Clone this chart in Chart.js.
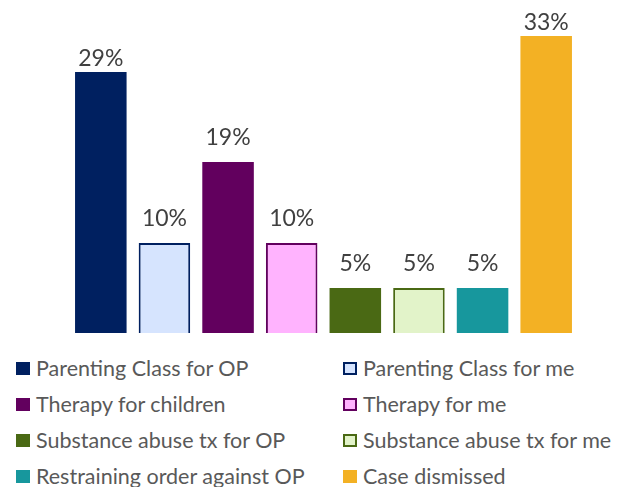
<!DOCTYPE html>
<html>
<head>
<meta charset="utf-8">
<script src="https://cdn.jsdelivr.net/npm/chart.js@4"></script>
<style>
  html, body { margin: 0; padding: 0; background: #fff; }
  #wrap { position: relative; width: 629px; height: 487px; overflow: hidden; }
  #chartBox { position: absolute; left: 0; top: 0; width: 629px; height: 345px; }
  #legend { position: absolute; left: 0; top: 356px; width: 629px; font-family: Lato, sans-serif; font-size: 21.5px; color: #595959; }
  .item { position: absolute; height: 24px; line-height: 24px; white-space: nowrap; }
  .box { position: absolute; left: 0; top: 6px; width: 14px; height: 13px; box-sizing: border-box; }
  .txt { position: absolute; left: 20px; top: 0; }
</style>
</head>
<body>
<div id="wrap">
  <div id="chartBox"><canvas id="chart"></canvas></div>
  <div id="legend"></div>
</div>
<script>
// データ
const categories = [
    'Parenting Class for OP',
    'Parenting Class for me',
    'Therapy for children',
    'Therapy for me',
    'Substance abuse tx for OP',
    'Substance abuse tx for me',
    'Restraining order against OP',
    'Case dismissed'
];
const values = [29, 10, 19, 10, 5, 5, 5, 33];
const fillColors = ['#002060', '#D6E4FE', '#62005E', '#FFB3FE', '#4A6914', '#E2F3C9', '#17979D', '#F3B124'];
const lineColors = ['#002060', '#002060', '#62005E', '#62005E', '#4A6914', '#4A6914', '#17979D', '#F3B124'];
const lineWidths = [0, 2, 0, 2, 0, 2, 0, 0];

// バーの上にラベルを表示 (背の高いバーは少し詰める)
const valueLabels = {
    id: 'valueLabels',
    afterDatasetsDraw(chart) {
        const ctx = chart.ctx;
        const meta = chart.getDatasetMeta(0);
        ctx.save();
        ctx.font = '23px Lato, sans-serif';
        ctx.fillStyle = '#404040';
        ctx.textAlign = 'center';
        ctx.textBaseline = 'alphabetic';
        meta.data.forEach((bar, i) => {
            const gap = values[i] >= 25 ? 6 : 17;
            ctx.fillText(values[i] + '%', bar.x, bar.y - gap);
        });
        ctx.restore();
    }
};

const ctx = document.getElementById('chart').getContext('2d');
const chart = new Chart(ctx, {
    type: 'bar',
    data: {
        labels: categories,
        datasets: [{
            data: values,
            backgroundColor: fillColors,
            borderColor: lineColors,
            borderWidth: lineWidths,
            categoryPercentage: 1,
            barPercentage: 0.81
        }]
    },
    options: {
        responsive: true,
        maintainAspectRatio: false,
        animation: false,
        layout: { padding: { left: 69, right: 51, top: 9, bottom: 12 } },
        plugins: {
            legend: { display: false },
            tooltip: { enabled: false }
        },
        scales: {
            x: { display: false },
            y: { display: false, min: 0, max: 36 }
        }
    },
    plugins: [valueLabels]
});

// 凡例 (2列)
const legend = document.getElementById('legend');
const colX = [16, 343];
const rowY = [0, 36, 72, 108];
categories.forEach((name, i) => {
    const item = document.createElement('div');
    item.className = 'item';
    item.style.left = colX[i % 2] + 'px';
    item.style.top = rowY[Math.floor(i / 2)] + 'px';
    const box = document.createElement('div');
    box.className = 'box';
    box.style.background = fillColors[i];
    box.style.border = (lineWidths[i] ? 2 : 0) + 'px solid ' + lineColors[i];
    const txt = document.createElement('span');
    txt.className = 'txt';
    txt.textContent = name;
    item.appendChild(box);
    item.appendChild(txt);
    legend.appendChild(item);
});
</script>
</body>
</html>
